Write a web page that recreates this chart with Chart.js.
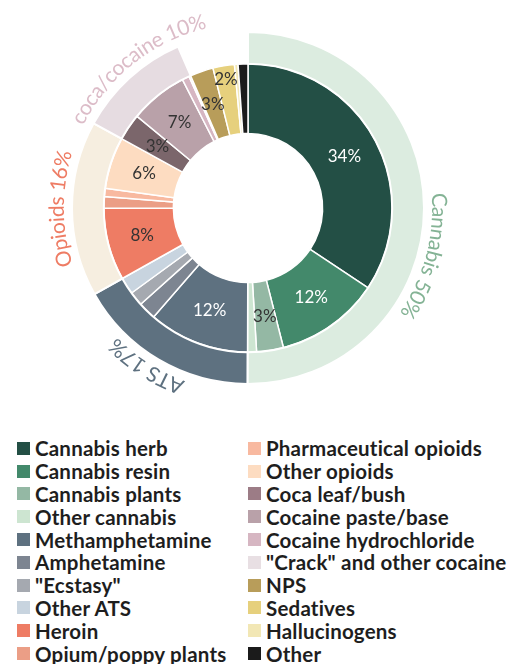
<!DOCTYPE html>
<html>
<head>
<meta charset="utf-8">
<script src="https://cdn.jsdelivr.net/npm/chart.js@4.4.0/dist/chart.umd.min.js"></script>
<style>
body { margin: 0; background: #fff; font-family: Lato, sans-serif; }
#wrap { position: relative; width: 511px; height: 400px; }
#legend {
    position: absolute; left: 17px; top: 437px;
    display: grid; grid-auto-flow: column;
    grid-template-rows: repeat(10, 22.8px);
    grid-template-columns: 231px 262px;
}
.item { display: flex; align-items: center; font-weight: bold; font-size: 20.5px; color: #1e1e1e; white-space: nowrap; letter-spacing: 0.2px; }
.box { width: 13px; height: 13px; margin-right: 5px; flex: none; }
</style>
</head>
<body>
<div id="wrap"><canvas id="chart"></canvas></div>
<div id="legend"></div>
<script>
// inner ring: single drugs
var drugs = ['Cannabis herb', 'Cannabis resin', 'Cannabis plants', 'Other cannabis',
    'Methamphetamine', 'Amphetamine', '"Ecstasy"', 'Other ATS',
    'Heroin', 'Opium/poppy plants', 'Pharmaceutical opioids', 'Other opioids',
    'Coca leaf/bush', 'Cocaine paste/base', 'Cocaine hydrochloride', '"Crack" and other cocaine',
    'NPS', 'Sedatives', 'Hallucinogens', 'Other'];
var drugShares = [34.3, 11.7, 3, 1, 11.3, 2, 1.6, 1.9, 8.1, 1.3, 0.9, 5.8, 3, 6.5, 0.8, 0.2, 2.6, 2.4, 0.4, 1.1];
var drugLabels = ['34%', '12%', '3%', '', '12%', '', '', '', '8%', '', '', '6%', '3%', '7%', '', '', '3%', '2%', '', ''];

// outer ring: drug groups (last one left empty)
var groups = ['Cannabis 50%', 'ATS 17%', 'Opioids 16%', 'coca/cocaine 10%', ''];
var groupShares = [50, 16.8, 16.1, 10.5, 6.5];

// colors
var drugColors = ['#234f45', '#43896b', '#94b8a4', '#cde5d1',
    '#5e7180', '#7d8591', '#a5a9b0', '#c8d4df',
    '#ee7c64', '#eb9e86', '#f8b9a0', '#fddcc1',
    '#7b666b', '#b9a1a9', '#d6b6c2', '#e8dfe3',
    '#b89d5a', '#e6d07d', '#f2e7b5', '#1b1b1b'];
var groupColors = ['#dcece0', '#5e7180', '#f6eee0', '#e6dce1', 'rgba(0,0,0,0)'];
var groupTextColors = ['#84b395', '#5e7180', '#ee7c64', '#dcbcc8'];
var whiteText = [0, 1, 4];
var groupShift = [15, 2, 0, 4];

var labelPlugin = {
    id: 'labels',
    afterDatasetsDraw: function(chart) {
        var ctx = chart.ctx;
        ctx.save();
        // percent labels on the inner ring
        ctx.font = '17px Lato';
        ctx.textAlign = 'center';
        ctx.textBaseline = 'middle';
        chart.getDatasetMeta(1).data.forEach(function(arc, i) {
            var txt = drugLabels[i];
            if (!txt) return;
            var p = arc.getProps(['startAngle', 'endAngle', 'innerRadius', 'outerRadius', 'x', 'y'], true);
            var mid = (p.startAngle + p.endAngle) / 2;
            var f = i == 17 ? 0.8 : 0.5;
            var r = p.innerRadius + (p.outerRadius - p.innerRadius) * f;
            ctx.fillStyle = whiteText.indexOf(i) >= 0 ? '#fff' : '#333';
            ctx.fillText(txt, p.x + r * Math.cos(mid), p.y + r * Math.sin(mid));
        });

        // curved group labels round the outer ring
        ctx.font = '21px Lato';
        chart.getDatasetMeta(0).data.forEach(function(arc, i) {
            var txt = groups[i];
            if (!txt) return;
            var p = arc.getProps(['startAngle', 'endAngle', 'outerRadius', 'x', 'y'], true);
            var mid = (p.startAngle + p.endAngle) / 2 + groupShift[i] * Math.PI / 180;
            var r = p.outerRadius + 15;
            var total = ctx.measureText(txt).width;
            var a = mid - total / 2 / r;
            ctx.fillStyle = groupTextColors[i];
            for (var k = 0; k < txt.length; k++) {
                var ch = txt[k];
                var w = ctx.measureText(ch).width;
                ctx.save();
                ctx.translate(p.x, p.y);
                ctx.rotate(a + w / 2 / r + Math.PI / 2);
                ctx.fillText(ch, 0, -r);
                ctx.restore();
                a += w / r;
            }
        });
        ctx.restore();
    }
};

var chart = new Chart(document.getElementById('chart'), {
    type: 'doughnut',
    data: {
        labels: drugs,
        datasets: [
            {
                data: groupShares,
                backgroundColor: groupColors,
                borderColor: '#fff',
                borderWidth: [2, 2, 2, 2, 0],
                weight: 32
            },
            {
                data: drugShares,
                backgroundColor: drugColors,
                borderColor: '#fff',
                borderWidth: 1.5,
                weight: 70
            }]
    },
    options: {
        responsive: true,
        maintainAspectRatio: false,
        animation: false,
        cutout: '42.4%',
        layout: { padding: { top: 31, bottom: 15, left: 0, right: 15 } },
        plugins: { legend: { display: false }, tooltip: { enabled: false } }
    },
    plugins: [labelPlugin]
});

// legend in two columns
var legendColors = drugColors.slice();
legendColors[12] = '#9c7c86';
var html = '';
drugs.forEach(function(name, i) {
    html += '<div class="item"><span class="box" style="background:' + legendColors[i] + '"></span>' +
        name.replace(/"/g, '&quot;') + '</div>';
});
document.getElementById('legend').innerHTML = html;
</script>
</body>
</html>
